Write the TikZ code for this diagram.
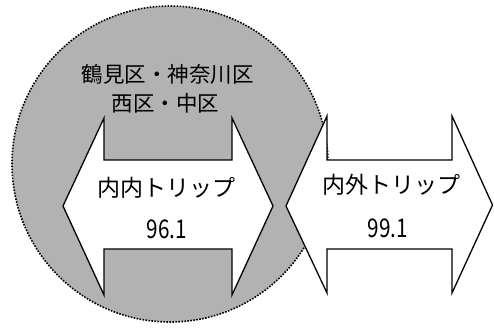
\documentclass[tikz,border=0pt]{standalone}
\usepackage{fontspec}
\usepackage{graphicx}
\setmainfont{Noto Sans CJK JP}
\begin{document}
\begin{tikzpicture}[x=1pt,y=-1pt,
  area/.style={draw=black,fill=black!30,line width=1.6pt,dash pattern=on 1.6pt off 1.4pt},
  arrowshape/.style={draw=black,fill=white,line width=1.3pt,line join=miter},
  region/.style={font=\fontsize{21.5}{24}\selectfont,inner sep=0pt},
  trip/.style={font=\fontsize{23}{26}\selectfont,inner sep=0pt},
  val/.style={font=\fontsize{23}{26}\selectfont,inner sep=0pt}]
\useasboundingbox (0,0) rectangle (494,327);
% shaded area
\node[area,circle,minimum size=316pt,inner sep=0pt] (zone) at (170,164) {};
% inner (double-headed) arrow
\draw[arrowshape] (63,206) -- (104,118) -- (104,160) -- (232,160) -- (232,118)
  -- (273,206) -- (232,295) -- (232,249) -- (104,249) -- (104,295) -- cycle;
% outer arrow
\draw[arrowshape] (286,206) -- (327,116) -- (327,160) -- (452,160) -- (452,116)
  -- (492.5,205) -- (452,293) -- (452,249) -- (327,249) -- (327,293) -- cycle;
% texts
\node[region] (r1) at (167.5,74) {鶴見区・神奈川区};
\node[region] (r2) at (165.5,103) {西区・中区};
\node[trip] (t1) at (166,188) {内内トリップ};
\node[val] (v1) at (167,229) {\scalebox{0.9}[1.12]{96.1}};
\node[trip] (t2) at (391,185) {内外トリップ};
\node[val] (v2) at (388,228) {\scalebox{0.9}[1.12]{99.1}};
\end{tikzpicture}
\end{document}
